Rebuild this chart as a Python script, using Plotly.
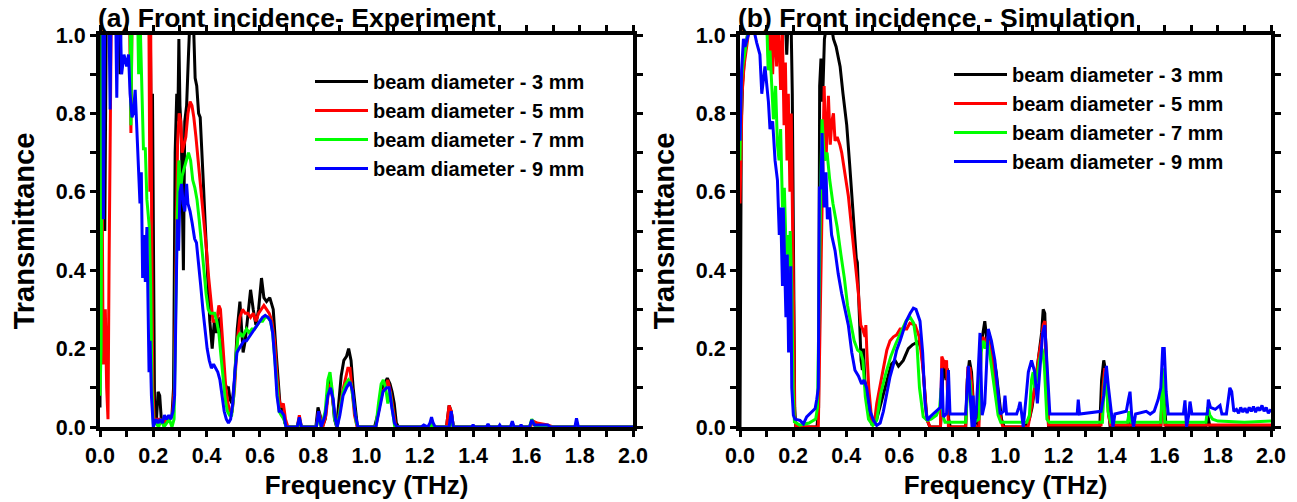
import plotly.graph_objects as go

# ---------------- data (frequency THz, transmittance) ----------------
series_names = ["beam diameter - 3 mm", "beam diameter - 5 mm",
                "beam diameter - 7 mm", "beam diameter - 9 mm"]
series_colors = ["#000000", "#ff0000", "#00ff00", "#0000ff"]
panel_titles = ["(a) Front incidence- Experiment", "(b) Front incidence - Simulation"]
tick_vals_x = [0.0, 0.2, 0.4, 0.6, 0.8, 1.0, 1.2, 1.4, 1.6, 1.8, 2.0]
tick_vals_y = [0.0, 0.2, 0.4, 0.6, 0.8, 1.0]

exp_3mm = [(0.000,0.05),(0.003,1.10),(0.014,1.10),(0.018,0.50),(0.024,1.10),(0.070,1.10),(0.075,0.90),(0.080,1.10),
 (0.188,1.10),(0.193,0.65),(0.197,0.85),(0.201,0.20),(0.205,0.01),(0.212,0.02),(0.218,0.09),(0.224,0.08),(0.230,0.02),
 (0.240,0.01),(0.250,0.02),(0.260,0.02),(0.270,0.03),(0.276,0.10),(0.282,0.70),(0.288,0.85),(0.292,0.78),(0.296,0.99),
 (0.300,0.82),(0.305,0.75),(0.310,0.55),(0.313,0.40),(0.318,0.78),(0.325,0.82),(0.332,0.95),(0.338,1.05),(0.350,1.05),
 (0.357,0.89),(0.363,0.87),(0.370,0.80),(0.376,0.79),(0.382,0.72),(0.388,0.62),(0.394,0.53),(0.400,0.45),(0.405,0.37),
 (0.412,0.27),(0.421,0.20),(0.429,0.27),(0.437,0.24),(0.445,0.27),(0.450,0.28),(0.456,0.22),(0.465,0.12),(0.475,0.10),
 (0.482,0.10),(0.488,0.07),(0.496,0.06),(0.505,0.12),(0.515,0.25),(0.525,0.32),(0.531,0.25),(0.537,0.19),(0.545,0.22),
 (0.556,0.30),(0.565,0.35),(0.575,0.30),(0.585,0.26),(0.595,0.30),(0.606,0.38),(0.615,0.33),(0.625,0.32),(0.637,0.33),
 (0.650,0.30),(0.662,0.18),(0.675,0.06),(0.685,0.04),(0.694,0.01),(0.705,0.00),(0.740,0.00),(0.748,0.02),(0.755,0.00),
 (0.810,0.00),(0.818,0.05),(0.826,0.03),(0.834,0.00),(0.845,0.02),(0.855,0.09),(0.864,0.12),(0.872,0.08),(0.880,0.02),
 (0.888,0.00),(0.897,0.07),(0.905,0.13),(0.915,0.17),(0.925,0.18),(0.933,0.20),(0.942,0.17),(0.950,0.10),(0.958,0.04),
 (0.966,0.00),(1.030,0.00),(1.045,0.04),(1.058,0.10),(1.068,0.11),(1.078,0.125),(1.088,0.11),(1.096,0.09),(1.104,0.06),
 (1.112,0.01),(1.120,0.00),(1.300,0.00),(1.310,0.055),(1.318,0.04),(1.326,0.00),(1.612,0.00),(1.620,0.015),(1.635,0.01),
 (1.650,0.00),(2.000,0.00)]

exp_5mm = [(0.000,0.15),(0.004,0.20),(0.008,0.60),(0.012,0.16),(0.016,0.20),(0.020,0.30),(0.025,0.10),(0.030,0.02),
 (0.034,0.41),(0.039,0.81),(0.043,1.10),(0.110,1.10),(0.116,0.75),(0.121,1.10),(0.183,1.10),(0.187,0.60),(0.190,1.05),
 (0.194,0.50),(0.198,0.10),(0.203,0.02),(0.215,0.02),(0.225,0.02),(0.235,0.01),(0.250,0.02),(0.262,0.02),(0.272,0.03),
 (0.279,0.10),(0.285,0.50),(0.291,0.72),(0.297,0.80),(0.303,0.78),(0.308,0.70),(0.315,0.72),(0.322,0.74),(0.330,0.80),
 (0.338,0.83),(0.345,0.82),(0.352,0.79),(0.360,0.74),(0.370,0.67),(0.380,0.59),(0.390,0.52),(0.400,0.45),(0.408,0.38),
 (0.416,0.32),(0.424,0.27),(0.432,0.27),(0.440,0.28),(0.446,0.31),(0.452,0.30),(0.458,0.24),(0.465,0.16),(0.472,0.10),
 (0.480,0.06),(0.488,0.04),(0.496,0.04),(0.505,0.10),(0.515,0.22),(0.525,0.28),(0.535,0.30),(0.545,0.29),(0.555,0.29),
 (0.565,0.28),(0.575,0.29),(0.585,0.27),(0.595,0.29),(0.605,0.30),(0.615,0.31),(0.625,0.30),(0.635,0.29),(0.645,0.27),
 (0.655,0.22),(0.663,0.14),(0.672,0.07),(0.680,0.05),(0.688,0.06),(0.696,0.02),(0.705,0.00),(0.740,0.00),(0.748,0.03),
 (0.756,0.00),(0.812,0.00),(0.820,0.04),(0.828,0.02),(0.836,0.00),(0.848,0.03),(0.857,0.09),(0.866,0.11),(0.874,0.07),
 (0.882,0.02),(0.890,0.00),(0.900,0.05),(0.910,0.09),(0.920,0.12),(0.930,0.15),(0.938,0.15),(0.946,0.10),(0.955,0.03),
 (0.965,0.00),(1.035,0.00),(1.048,0.05),(1.060,0.09),(1.070,0.10),(1.080,0.12),(1.090,0.09),(1.100,0.04),(1.110,0.00),
 (1.300,0.00),(1.310,0.055),(1.318,0.04),(1.326,0.00),(1.615,0.00),(1.625,0.015),(1.640,0.01),(1.660,0.008),(1.680,0.005),
 (1.700,0.00),(2.000,0.00)]

exp_7mm = [(0.000,0.08),(0.004,0.20),(0.008,1.10),(0.112,1.10),(0.116,0.77),(0.121,1.10),(0.140,1.10),(0.145,0.90),
 (0.150,1.05),(0.157,0.86),(0.163,0.71),(0.170,0.71),(0.176,0.58),(0.185,0.51),(0.190,0.36),(0.195,0.10),(0.200,0.01),
 (0.210,0.01),(0.220,0.00),(0.230,0.02),(0.240,0.00),(0.250,0.01),(0.260,0.02),(0.270,0.00),(0.278,0.02),(0.284,0.30),
 (0.290,0.55),(0.296,0.68),(0.302,0.60),(0.308,0.64),(0.316,0.66),(0.324,0.68),(0.332,0.70),(0.340,0.68),(0.348,0.63),
 (0.356,0.61),(0.364,0.58),(0.372,0.53),(0.380,0.48),(0.390,0.40),(0.398,0.34),(0.406,0.30),(0.414,0.29),(0.422,0.29),
 (0.430,0.29),(0.438,0.27),(0.446,0.24),(0.454,0.18),(0.462,0.12),(0.470,0.07),(0.478,0.04),(0.486,0.03),(0.494,0.03),
 (0.502,0.08),(0.510,0.18),(0.518,0.23),(0.526,0.24),(0.534,0.23),(0.542,0.24),(0.550,0.25),(0.560,0.24),(0.570,0.25),
 (0.580,0.25),(0.590,0.26),(0.600,0.27),(0.610,0.27),(0.620,0.28),(0.630,0.28),(0.640,0.27),(0.648,0.24),(0.656,0.17),
 (0.664,0.09),(0.672,0.04),(0.680,0.03),(0.690,0.02),(0.698,0.00),(0.740,0.00),(0.748,0.02),(0.756,0.00),(0.812,0.00),
 (0.820,0.03),(0.830,0.00),(0.845,0.04),(0.855,0.12),(0.863,0.14),(0.872,0.09),(0.880,0.02),(0.890,0.00),(0.900,0.04),
 (0.912,0.09),(0.922,0.11),(0.932,0.12),(0.942,0.11),(0.952,0.06),(0.962,0.01),(0.970,0.00),(1.035,0.00),(1.045,0.06),
 (1.055,0.11),(1.063,0.12),(1.072,0.10),(1.080,0.06),(1.088,0.09),(1.096,0.05),(1.106,0.00),(1.240,0.00),(1.246,0.015),
 (1.252,0.00),(1.312,0.00),(1.318,0.03),(1.326,0.00),(1.612,0.00),(1.620,0.02),(1.630,0.005),(1.640,0.00),(2.000,0.00)]

exp_9mm = [(0.000,1.10),(0.010,1.10),(0.013,0.53),(0.018,1.10),(0.033,1.10),(0.038,0.81),(0.042,1.10),(0.058,1.10),
 (0.063,0.84),(0.068,1.10),(0.076,1.05),(0.081,0.90),(0.090,0.95),(0.100,0.92),(0.107,0.95),(0.113,0.85),(0.120,0.79),
 (0.125,0.80),(0.132,0.86),(0.138,0.75),(0.144,0.68),(0.150,0.57),(0.155,0.65),(0.160,0.38),(0.165,0.49),(0.170,0.37),
 (0.176,0.51),(0.181,0.30),(0.184,0.14),(0.188,0.22),(0.193,0.08),(0.200,0.00),(0.210,0.02),(0.218,0.01),(0.226,0.02),
 (0.234,0.01),(0.242,0.03),(0.250,0.02),(0.258,0.03),(0.266,0.02),(0.274,0.04),(0.280,0.08),(0.285,0.35),(0.290,0.53),
 (0.295,0.45),(0.300,0.60),(0.306,0.62),(0.312,0.57),(0.318,0.55),(0.325,0.62),(0.330,0.57),(0.338,0.55),(0.346,0.52),
 (0.355,0.48),(0.362,0.47),(0.370,0.42),(0.378,0.36),(0.386,0.30),(0.394,0.24),(0.402,0.20),(0.410,0.17),(0.418,0.15),
 (0.426,0.16),(0.434,0.15),(0.442,0.14),(0.450,0.12),(0.458,0.08),(0.466,0.04),(0.474,0.02),(0.482,0.01),(0.490,0.02),
 (0.498,0.06),(0.506,0.14),(0.514,0.19),(0.522,0.20),(0.530,0.21),(0.540,0.22),(0.550,0.22),(0.560,0.23),(0.570,0.24),
 (0.580,0.25),(0.590,0.26),(0.600,0.27),(0.610,0.28),(0.620,0.285),(0.630,0.28),(0.640,0.27),(0.648,0.24),(0.656,0.17),
 (0.664,0.08),(0.672,0.04),(0.680,0.04),(0.690,0.03),(0.698,0.00),(0.740,0.00),(0.748,0.025),(0.756,0.00),(0.812,0.00),
 (0.820,0.04),(0.830,0.00),(0.845,0.03),(0.855,0.08),(0.865,0.10),(0.875,0.07),(0.883,0.02),(0.890,0.00),(0.900,0.03),
 (0.912,0.08),(0.925,0.10),(0.938,0.115),(0.948,0.09),(0.958,0.03),(0.968,0.00),(1.035,0.00),(1.050,0.05),(1.062,0.09),
 (1.075,0.10),(1.085,0.10),(1.095,0.05),(1.105,0.01),(1.115,0.00),(1.205,0.00),(1.215,0.005),(1.230,0.00),(1.238,0.01),
 (1.244,0.025),(1.250,0.01),(1.258,0.00),(1.310,0.00),(1.318,0.04),(1.326,0.00),(1.395,0.00),(1.400,0.006),(1.405,0.00),
 (1.450,0.00),(1.456,0.008),(1.462,0.00),(1.495,0.00),(1.500,0.005),(1.505,0.00),(1.540,0.00),(1.547,0.015),(1.554,0.00),
 (1.575,0.00),(1.580,0.006),(1.585,0.00),(1.612,0.00),(1.620,0.018),(1.630,0.005),(1.680,0.005),(1.690,0.00),(1.782,0.00),
 (1.788,0.022),(1.795,0.00),(2.000,0.00)]

sim_3mm = [(0.000,0.00),(0.002,0.56),(0.005,0.78),(0.010,0.88),(0.018,0.95),(0.028,1.00),(0.040,1.05),(0.170,1.05),
 (0.176,0.95),(0.182,1.05),(0.192,1.05),(0.197,0.85),(0.202,0.50),(0.206,0.05),(0.210,0.00),(0.290,0.00),(0.296,0.05),
 (0.300,0.87),(0.305,0.94),(0.311,0.83),(0.318,0.99),(0.325,1.02),(0.345,1.02),(0.352,0.99),(0.362,0.97),(0.370,0.94),
 (0.377,0.92),(0.388,0.85),(0.402,0.77),(0.413,0.67),(0.425,0.56),(0.433,0.47),(0.438,0.43),(0.442,0.42),(0.447,0.32),
 (0.452,0.23),(0.456,0.17),(0.461,0.145),(0.465,0.20),(0.470,0.12),(0.484,0.06),(0.496,0.01),(0.515,0.02),(0.530,0.06),
 (0.553,0.12),(0.570,0.16),(0.584,0.17),(0.597,0.155),(0.615,0.17),(0.634,0.20),(0.650,0.21),(0.672,0.218),(0.684,0.196),
 (0.693,0.12),(0.704,0.02),(0.715,0.00),(0.755,0.00),(0.760,0.05),(0.765,0.17),(0.770,0.15),(0.776,0.12),(0.781,0.15),
 (0.786,0.02),(0.792,0.00),(0.850,0.00),(0.856,0.12),(0.864,0.17),(0.872,0.14),(0.878,0.06),(0.884,0.00),(0.892,0.05),
 (0.898,0.00),(0.906,0.20),(0.914,0.24),(0.922,0.27),(0.930,0.22),(0.938,0.24),(0.946,0.21),(0.955,0.18),(0.965,0.14),
 (0.975,0.08),(0.985,0.02),(0.995,0.00),(1.075,0.00),(1.090,0.02),(1.100,0.05),(1.110,0.10),(1.120,0.15),(1.128,0.20),
 (1.136,0.24),(1.142,0.30),(1.148,0.29),(1.154,0.15),(1.162,0.00),(1.355,0.00),(1.362,0.12),(1.370,0.17),(1.378,0.14),
 (1.386,0.06),(1.394,0.00),(1.460,0.00),(1.466,0.04),(1.472,0.00),(1.585,0.00),(1.592,0.12),(1.598,0.05),(1.605,0.00),
 (1.755,0.00),(1.762,0.03),(1.770,0.00),(2.000,0.00)]

sim_5mm = [(0.000,0.57),(0.004,0.70),(0.008,0.85),(0.015,0.92),(0.025,0.97),(0.035,1.02),(0.100,1.05),(0.108,0.93),
 (0.115,1.05),(0.123,0.90),(0.130,1.05),(0.138,0.92),(0.145,1.05),(0.153,0.86),(0.160,1.00),(0.166,0.77),(0.171,0.93),
 (0.177,0.68),(0.182,0.85),(0.188,0.60),(0.193,0.80),(0.198,0.56),(0.202,0.30),(0.206,0.02),(0.212,0.00),(0.295,0.00),
 (0.300,0.20),(0.305,0.44),(0.310,0.70),(0.317,0.87),(0.324,0.68),(0.333,0.845),(0.340,0.72),(0.346,0.78),(0.352,0.80),
 (0.358,0.73),(0.366,0.74),(0.376,0.72),(0.383,0.70),(0.395,0.65),(0.408,0.59),(0.420,0.51),(0.433,0.43),(0.446,0.34),
 (0.455,0.26),(0.462,0.25),(0.471,0.23),(0.474,0.26),(0.478,0.19),(0.485,0.10),(0.496,0.017),(0.505,0.004),(0.515,0.06),
 (0.528,0.11),(0.540,0.154),(0.553,0.196),(0.565,0.22),(0.578,0.23),(0.590,0.235),(0.603,0.25),(0.628,0.25),(0.640,0.265),
 (0.660,0.26),(0.675,0.23),(0.690,0.145),(0.703,0.02),(0.716,0.00),(0.755,0.00),(0.760,0.18),(0.766,0.17),(0.772,0.15),
 (0.778,0.17),(0.785,0.00),(0.850,0.00),(0.858,0.15),(0.866,0.15),(0.874,0.10),(0.882,0.00),(0.900,0.00),(0.908,0.20),
 (0.916,0.23),(0.924,0.20),(0.932,0.23),(0.942,0.20),(0.952,0.17),(0.962,0.12),(0.972,0.07),(0.982,0.02),(0.990,0.00),
 (1.085,0.00),(1.095,0.04),(1.105,0.08),(1.115,0.12),(1.125,0.18),(1.135,0.22),(1.142,0.26),(1.148,0.27),(1.154,0.18),
 (1.162,0.005),(1.360,0.005),(1.367,0.10),(1.374,0.15),(1.380,0.12),(1.388,0.03),(1.396,0.005),(1.585,0.005),(1.592,0.12),
 (1.600,0.005),(2.000,0.005)]

sim_7mm = [(0.000,0.68),(0.004,0.87),(0.010,0.92),(0.020,0.96),(0.030,1.00),(0.040,1.05),(0.100,1.05),(0.106,0.91),
 (0.113,0.96),(0.119,0.87),(0.126,0.785),(0.134,0.87),(0.141,0.72),(0.147,0.68),(0.153,0.76),(0.160,0.56),(0.167,0.61),
 (0.174,0.44),(0.179,0.49),(0.184,0.31),(0.189,0.50),(0.195,0.35),(0.200,0.10),(0.205,0.013),(0.225,0.005),(0.260,0.01),
 (0.285,0.02),(0.292,0.05),(0.298,0.375),(0.304,0.61),(0.309,0.785),(0.318,0.68),(0.328,0.70),(0.338,0.63),(0.350,0.57),
 (0.366,0.51),(0.380,0.44),(0.393,0.38),(0.405,0.31),(0.418,0.26),(0.430,0.22),(0.443,0.196),(0.455,0.19),(0.463,0.17),
 (0.472,0.077),(0.484,0.02),(0.500,0.004),(0.515,0.017),(0.530,0.085),(0.549,0.136),(0.568,0.18),(0.587,0.213),
 (0.606,0.243),(0.625,0.27),(0.641,0.28),(0.654,0.265),(0.667,0.205),(0.676,0.10),(0.690,0.026),(0.705,0.017),
 (0.720,0.02),(0.740,0.03),(0.752,0.05),(0.758,0.10),(0.764,0.03),(0.772,0.012),(0.850,0.012),(0.858,0.10),(0.866,0.12),
 (0.874,0.05),(0.882,0.012),(0.900,0.02),(0.908,0.19),(0.916,0.22),(0.924,0.20),(0.932,0.22),(0.942,0.18),(0.952,0.13),
 (0.962,0.08),(0.972,0.03),(0.982,0.012),(1.080,0.012),(1.090,0.03),(1.098,0.12),(1.104,0.14),(1.110,0.10),(1.118,0.12),
 (1.128,0.17),(1.138,0.20),(1.146,0.16),(1.156,0.02),(1.165,0.012),(1.365,0.012),(1.372,0.11),(1.378,0.14),(1.386,0.04),
 (1.396,0.012),(1.460,0.012),(1.466,0.04),(1.472,0.012),(1.585,0.012),(1.592,0.15),(1.600,0.012),(1.755,0.012),
 (1.762,0.05),(1.770,0.03),(1.780,0.02),(1.800,0.015),(1.900,0.012),(2.000,0.015)]

sim_9mm = [(0.000,0.73),(0.006,0.91),(0.013,0.99),(0.019,0.97),(0.031,1.00),(0.050,1.02),(0.063,0.98),(0.075,0.95),
 (0.082,0.85),(0.094,0.92),(0.107,0.83),(0.113,0.76),(0.123,0.78),(0.132,0.68),(0.141,0.63),(0.148,0.49),(0.153,0.56),
 (0.160,0.36),(0.163,0.56),(0.173,0.28),(0.178,0.44),(0.183,0.19),(0.191,0.41),(0.195,0.10),(0.201,0.03),(0.207,0.02),
 (0.226,0.017),(0.239,0.008),(0.251,0.026),(0.270,0.04),(0.283,0.047),(0.289,0.07),(0.295,0.10),(0.299,0.61),(0.305,0.61),
 (0.309,0.75),(0.317,0.56),(0.324,0.65),(0.329,0.53),(0.337,0.56),(0.345,0.49),(0.358,0.45),(0.370,0.39),(0.383,0.34),
 (0.396,0.30),(0.408,0.26),(0.421,0.19),(0.433,0.145),(0.446,0.13),(0.458,0.11),(0.467,0.12),(0.477,0.10),(0.490,0.04),
 (0.503,0.017),(0.515,0.004),(0.528,0.01),(0.540,0.04),(0.553,0.085),(0.565,0.128),(0.578,0.16),(0.590,0.196),(0.603,0.22),
 (0.616,0.247),(0.628,0.273),(0.641,0.29),(0.653,0.303),(0.663,0.30),(0.678,0.27),(0.688,0.19),(0.697,0.06),(0.706,0.017),
 (0.716,0.026),(0.729,0.034),(0.748,0.047),(0.755,0.05),(0.760,0.15),(0.766,0.026),(0.778,0.034),(0.785,0.145),(0.791,0.033),
 (0.850,0.033),(0.860,0.156),(0.868,0.08),(0.874,0.00),(0.878,0.08),(0.882,0.00),(0.890,0.04),(0.904,0.24),(0.912,0.03),
 (0.922,0.06),(0.935,0.25),(0.947,0.22),(0.960,0.17),(0.972,0.088),(0.980,0.033),(0.993,0.04),(0.998,0.08),(1.004,0.033),
 (1.042,0.033),(1.050,0.05),(1.055,0.064),(1.061,0.033),(1.067,0.00),(1.078,0.08),(1.086,0.14),(1.098,0.17),(1.110,0.14),
 (1.120,0.06),(1.130,0.15),(1.140,0.24),(1.148,0.26),(1.161,0.10),(1.167,0.033),(1.270,0.033),(1.274,0.07),(1.279,0.033),
 (1.360,0.04),(1.370,0.08),(1.375,0.11),(1.380,0.156),(1.388,0.10),(1.398,0.033),(1.405,0.00),(1.412,0.033),(1.455,0.04),
 (1.463,0.07),(1.469,0.09),(1.475,0.033),(1.482,0.00),(1.490,0.033),(1.530,0.04),(1.545,0.033),(1.560,0.04),(1.575,0.07),
 (1.585,0.10),(1.592,0.20),(1.598,0.20),(1.605,0.09),(1.613,0.033),(1.670,0.033),(1.676,0.068),(1.682,0.00),(1.690,0.03),
 (1.695,0.065),(1.702,0.033),(1.760,0.033),(1.764,0.07),(1.772,0.05),(1.790,0.045),(1.808,0.055),(1.815,0.033),(1.832,0.033),
 (1.845,0.10),(1.852,0.09),(1.860,0.04),(1.870,0.045),(1.878,0.035),(1.886,0.05),(1.894,0.038),(1.902,0.048),(1.910,0.036),
 (1.918,0.05),(1.926,0.04),(1.934,0.052),(1.942,0.038),(1.950,0.05),(1.958,0.042),(1.966,0.055),(1.974,0.04),(1.982,0.05),
 (1.990,0.035),(2.000,0.045)]

experiment = [exp_3mm, exp_5mm, exp_7mm, exp_9mm]
simulation = [sim_3mm, sim_5mm, sim_7mm, sim_9mm]

# ---------------- figure ----------------
W, H = 1297, 502
ML, MR, MT, MB = 100, 26, 35, 75
PW = W - ML - MR
PH = H - MT - MB
def px_x(p):           # page px -> paper fraction
    return (p - ML) / PW
def px_y(p):
    return (H - MB - p) / PH

FONT = "Liberation Sans, Arial, sans-serif"
fig = go.Figure()

for data, xa, ya, leg in [(experiment, "x", "y", "legend"), (simulation, "x2", "y2", "legend2")]:
    for name, color, pts in zip(series_names, series_colors, data):
        fig.add_trace(go.Scatter(
            x=[p[0] for p in pts], y=[p[1] for p in pts], mode="lines",
            name=name, line=dict(color=color, width=3),
            xaxis=xa, yaxis=ya, legend=leg, showlegend=True))

minor = dict(ticks="outside", ticklen=6, tickwidth=3, tickcolor="black")
axis_common = dict(showgrid=False, zeroline=False, showline=True, linewidth=4, linecolor="black",
                   mirror="allticks", ticks="outside", ticklen=6, tickwidth=3, tickcolor="black",
                   tickfont=dict(family=FONT, size=21.5, color="black", weight="bold"),
                   tickformat=".1f", automargin=False)
xcommon = dict(axis_common, range=[0, 2.0], tickvals=tick_vals_x, minor=dict(minor, dtick=0.1),
               title=dict(text="Frequency (THz)", font=dict(family=FONT, size=26, color="black", weight="bold"),
                          standoff=10))
ycommon = dict(axis_common, range=[0, 1.0], tickvals=tick_vals_y, minor=dict(minor, dtick=0.1),
               title=dict(text="Transmittance", font=dict(family=FONT, size=29, color="black", weight="bold"),
                          standoff=14))

legend_common = dict(bgcolor="rgba(0,0,0,0)", borderwidth=0, itemwidth=53,
                     font=dict(family=FONT, size=20, color="black", weight="bold"),
                     xanchor="left", yanchor="top", tracegroupgap=0)

fig.update_layout(
    width=W, height=H, plot_bgcolor="white", paper_bgcolor="white",
    margin=dict(l=ML, r=MR, t=MT, b=MB, autoexpand=False),
    xaxis=dict(xcommon, domain=[0, px_x(633)], anchor="y"),
    yaxis=dict(ycommon, domain=[0, 1], anchor="x"),
    xaxis2=dict(xcommon, domain=[px_x(740), 1], anchor="y2"),
    yaxis2=dict(ycommon, domain=[0, 1], anchor="x2"),
    legend=dict(legend_common, x=px_x(310), y=px_y(62)),
    legend2=dict(legend_common, x=px_x(949), y=px_y(55)),
    annotations=[
        dict(text=panel_titles[0], x=px_x(96), y=1.0, xref="paper", yref="paper",
             xanchor="left", yanchor="bottom", showarrow=False, yshift=0,
             font=dict(family=FONT, size=26.5, color="black", weight="bold")),
        dict(text=panel_titles[1], x=px_x(736), y=1.0, xref="paper", yref="paper",
             xanchor="left", yanchor="bottom", showarrow=False, yshift=0,
             font=dict(family=FONT, size=26.5, color="black", weight="bold")),
    ],
)

# remove the browser's default 8 px body margin so the figure fills the window exactly
fig.write_html("out.html", config={"displayModeBar": False},
               post_script="document.body.style.margin='0px';")
